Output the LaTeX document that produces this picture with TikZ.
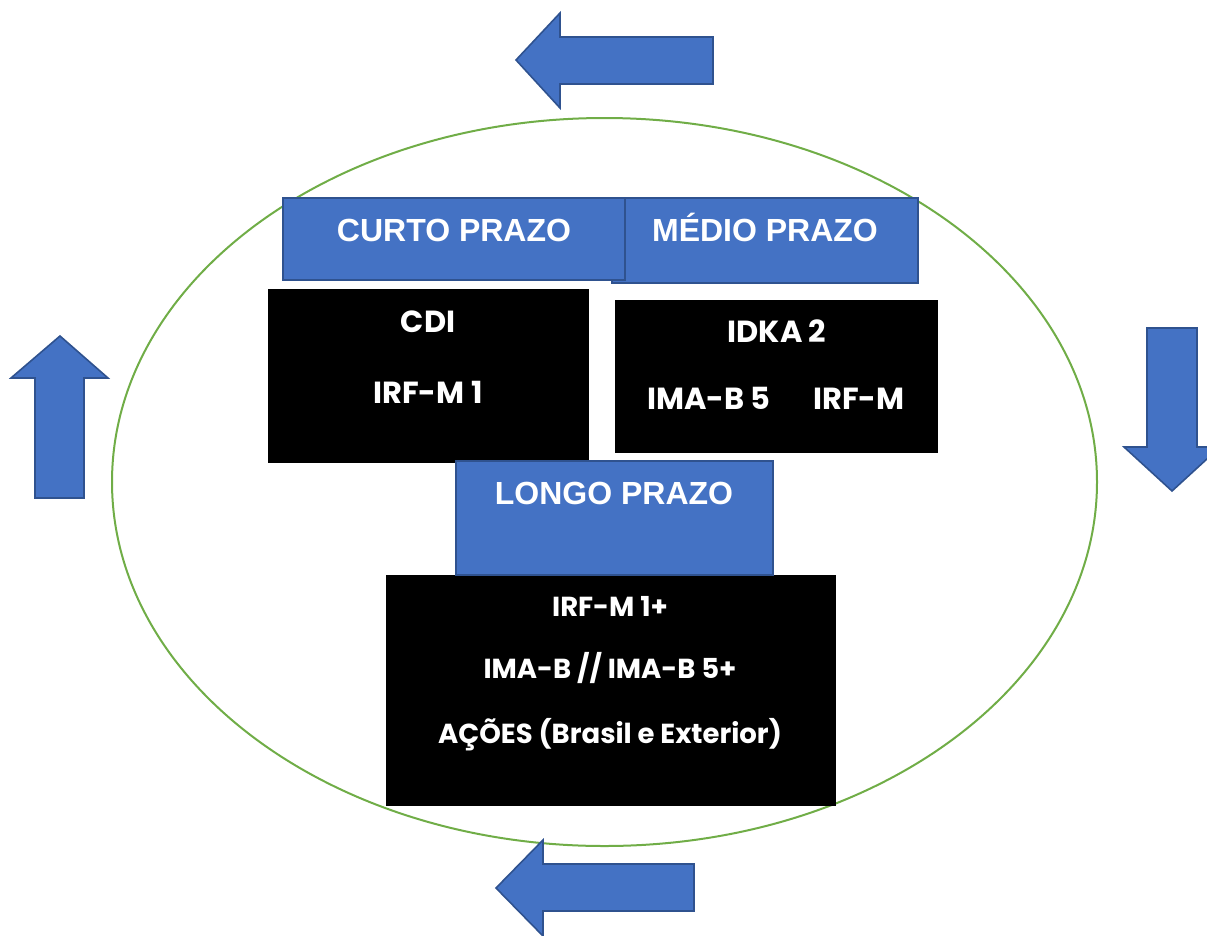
\documentclass[tikz,border=0pt]{standalone}
\usepackage{fontspec}
\setmainfont{Liberation Sans}
\newfontfamily\popfont{Poppins}
\definecolor{boxblue}{HTML}{4472C4}
\definecolor{edgeblue}{HTML}{2F528F}
\definecolor{ringgreen}{HTML}{70AD47}
\tikzset{
  bluebox/.style={draw=edgeblue, fill=boxblue, line width=1.6pt, inner sep=0pt},
  blackbox/.style={draw=black, fill=black, line width=1pt, inner sep=0pt},
  bluearrow/.style={draw=edgeblue, fill=boxblue, line width=1.6pt, line join=miter},
  headtext/.style={text=white, font=\fontsize{32}{36}\selectfont\bfseries, inner sep=0pt, anchor=base},
  itemtext/.style={text=white, font=\popfont\fontsize{30.5}{34}\selectfont\bfseries, inner sep=0pt, anchor=base},
  lowtext/.style={text=white, font=\popfont\fontsize{27.5}{31}\selectfont\bfseries, inner sep=0pt, anchor=base},
}
\begin{document}
\begin{tikzpicture}[x=1pt,y=-1pt]
\useasboundingbox (0,0) rectangle (1207,935);
\begin{scope}
\clip (0,0) rectangle (1207,935);
% ring
\draw[ringgreen, line width=2pt] (604.5,482) ellipse [x radius=492.5, y radius=364];
% arrows
\draw[bluearrow] (516,60) -- (560,13) -- (560,37) -- (713,37) -- (713,84) -- (560,84) -- (560,108) -- cycle;
\draw[bluearrow] (60,336) -- (108,378) -- (84,378) -- (84,498) -- (35,498) -- (35,378) -- (11,378) -- cycle;
\draw[bluearrow] (1172,491) -- (1124,447) -- (1147,447) -- (1147,328) -- (1197,328) -- (1197,447) -- (1220,447) -- cycle;
\draw[bluearrow] (496,888) -- (543,840) -- (543,864) -- (694,864) -- (694,911) -- (543,911) -- (543,936) -- cycle;
\end{scope}
% heading boxes
\node[bluebox, minimum width=306pt, minimum height=85pt] (medio) at (765,240.5) {};
\node[bluebox, minimum width=342pt, minimum height=82pt] (curto) at (454,239) {};
% black boxes
\node[blackbox, minimum width=320pt, minimum height=173pt] (cdibox) at (428,375.5) {};
\node[blackbox, minimum width=322pt, minimum height=152pt] (idkabox) at (776,376) {};
\node[blackbox, minimum width=449pt, minimum height=230pt] (longbox) at (610.5,690) {};
\node[bluebox, minimum width=317pt, minimum height=114pt] (longo) at (614.5,518) {};
% headings
\node[headtext] (tcurto) at (454,241) {CURTO PRAZO};
\node[headtext] (tmedio) at (765,241) {MÉDIO PRAZO};
\node[headtext] (tlongo) at (614,504) {LONGO PRAZO};
% items
\node[itemtext] (tcdi) at (428,332) {CDI};
\node[itemtext] (tirfm1) at (428,403) {IRF-M 1};
\node[itemtext] (tidka) at (777,342) {IDKA 2};
\node[itemtext] (timab5) at (709,409) {IMA-B 5};
\node[itemtext] (tirfm) at (859,409) {IRF-M};
\node[lowtext] (tirfm1p) at (610,616) {IRF-M 1+};
\node[lowtext] (timab) at (610,678) {IMA-B // IMA-B 5+};
\node[lowtext] (tacoes) at (610,743) {AÇÕES (Brasil e Exterior)};
\end{tikzpicture}
\end{document}
